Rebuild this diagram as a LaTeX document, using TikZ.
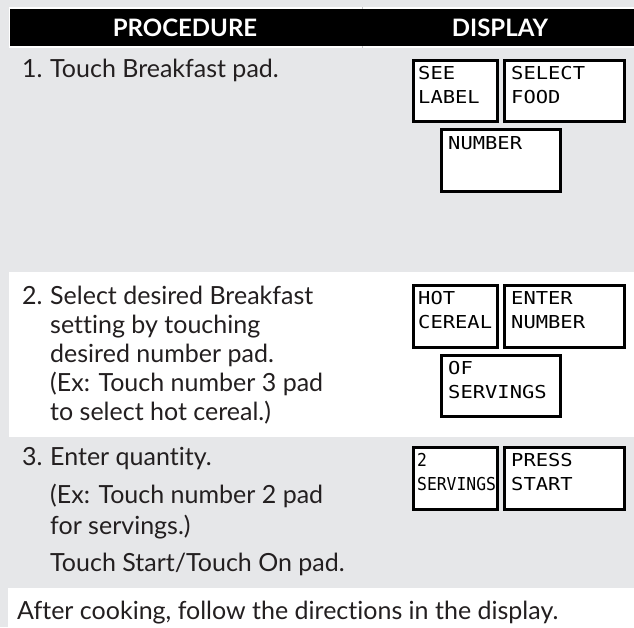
\documentclass[tikz,border=0pt]{standalone}
\usepackage{fontspec}
\setmainfont{Lato}[Ligatures=NoCommon]
\newfontfamily\lcdfont[FakeStretch=1.15]{DejaVu Sans Mono}
\definecolor{panel}{RGB}{230,231,233}
\definecolor{ink}{RGB}{35,31,32}
\definecolor{rule}{RGB}{200,201,203}

\begin{document}
\begin{tikzpicture}[x=1pt,y=-1pt,
  body/.style={anchor=base west,inner sep=0pt,text=ink,font=\fontsize{25}{30}\selectfont},
  headtxt/.style={anchor=base,inner sep=0pt,text=white,font=\fontsize{24}{28}\selectfont\bfseries},
  lcdbox/.style={draw=black,line width=2.6pt,fill=white,inner sep=0pt,anchor=north west},
  lcdtxt/.style={anchor=north west,inner sep=0pt,align=left,font=\lcdfont\fontsize{17.8}{24}\selectfont}]

% page and background
\useasboundingbox (0,0) rectangle (634,627);
\fill[panel] (0,0) rectangle (634,627);

% header bar with its column rule
\fill[white] (9,7) rectangle (634,48);
\draw[rule,line width=0.6pt] (362,7) -- (362,48);
\fill[black] (10,9) rectangle (634,46);
\node[headtxt] (hproc) at (185,36) {PROCEDURE};
\node[headtxt] (hdisp) at (500,36) {DISPLAY};

% white band behind step 2 and the closing note
\fill[white] (9,272) rectangle (634,437);
\fill[white] (8,588) rectangle (634,627);

% step 1
\node[body] (n1) at (22,77) {1.};
\node[body] (t1) at (50,77) {Touch Breakfast pad.};

% step 2
\node[body] (n2) at (22,304) {2.};
\node[body] (t2a) at (50,304) {Select desired Breakfast};
\node[body] (t2b) at (50,333) {setting by touching};
\node[body] (t2c) at (50,362) {desired number pad.};
\node[body] (t2d) at (50,391) {(Ex: Touch number 3 pad};
\node[body] (t2e) at (50,420) {to select hot cereal.)};

% step 3
\node[body] (n3) at (22,465) {3.};
\node[body] (t3a) at (50,465) {Enter quantity.};
\node[body] (t3b) at (50,503) {(Ex: Touch number 2 pad};
\node[body] (t3c) at (50,534) {for servings.)};
\node[body] (t3d) at (50,571) {Touch Start/Touch On pad.};

% closing note
\node[body] (note) at (17,619) {After cooking, follow the directions in the display.};

% display panels, step 1
\node[lcdbox,minimum width=84pt,minimum height=61pt] (b1) at (412,59) {};
\node[lcdbox,minimum width=120pt,minimum height=61pt] (b2) at (503,59) {};
\node[lcdbox,minimum width=119pt,minimum height=62pt] (b3) at (440,128) {};
\node[lcdtxt] (l1) at ([shift={(6,7)}]b1.north west) {SEE\\LABEL};
\node[lcdtxt] (l2) at ([shift={(8,7)}]b2.north west) {SELECT\\FOOD};
\node[lcdtxt] (l3) at ([shift={(8,8)}]b3.north west) {NUMBER};

% display panels, step 2
\node[lcdbox,minimum width=84pt,minimum height=62pt] (b4) at (412,284) {};
\node[lcdbox,minimum width=120pt,minimum height=62pt] (b5) at (503,284) {};
\node[lcdbox,minimum width=119pt,minimum height=61pt] (b6) at (440,354) {};
\node[lcdtxt] (l4) at ([shift={(6,7)}]b4.north west) {HOT\\CEREAL};
\node[lcdtxt] (l5) at ([shift={(8,7)}]b5.north west) {ENTER\\NUMBER};
\node[lcdtxt] (l6) at ([shift={(8,7)}]b6.north west) {OF\\SERVINGS};

% display panels, step 3
\node[lcdbox,minimum width=84pt,minimum height=62pt] (b7) at (412,446) {};
\node[lcdbox,minimum width=120pt,minimum height=62pt] (b8) at (503,446) {};
\node[lcdtxt,xscale=0.8] (l7) at ([shift={(5,7)}]b7.north west) {2\\SERVINGS};
\node[lcdtxt] (l8) at ([shift={(8,7)}]b8.north west) {PRESS\\START};
\end{tikzpicture}
\end{document}
